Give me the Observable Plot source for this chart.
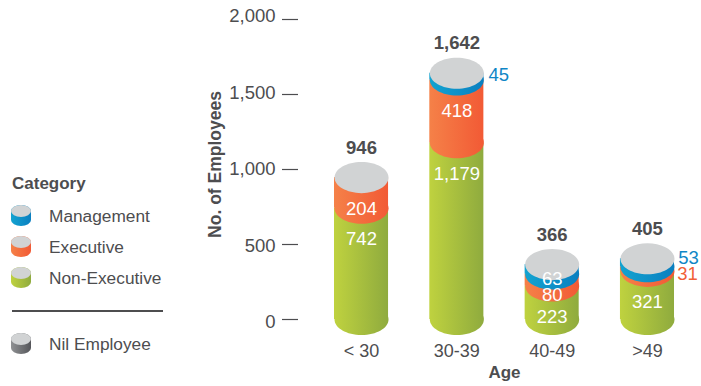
<!DOCTYPE html>
<html>
<head>
<meta charset="utf-8">
<script src="https://cdn.jsdelivr.net/npm/d3@7"></script>
<script src="https://cdn.jsdelivr.net/npm/@observablehq/plot@0.6"></script>
<style>
  html, body { margin: 0; padding: 0; background: #fff; }
  #chart { position: relative; width: 701px; height: 386px; font-family: "Liberation Sans", Arial, sans-serif; color: #4d4d4f; overflow: hidden; }
  #chart svg.plot { display: block; position: absolute; left: 0; top: 0; }
  .legend-title { position: absolute; left: 12px; top: 174px; font-size: 17px; line-height: 20px; font-weight: 700; }
  .legend-row { position: absolute; left: 11px; height: 22px; width: 170px; }
  .legend-row svg { position: absolute; left: 0; top: 0; }
  .legend-row span { position: absolute; left: 38px; top: 1px; font-size: 17.3px; line-height: 20px; white-space: nowrap; }
  .legend-rule { position: absolute; left: 12px; top: 310px; width: 151px; height: 2px; background: #4d4d4f; }
</style>
</head>
<body>
<div id="chart"></div>
<script>
// Employees by age band and category
const ages = ["< 30", "30-39", "40-49", ">49"];
const nonExecutive = [742, 1179, 223, 321];
const executive = [204, 418, 80, 31];
const management = [0, 45, 63, 53];
const totals = [946, 1642, 366, 405];
const yTicks = [0, 500, 1000, 1500, 2000];

const categories = ["Management", "Executive", "Non-Executive"];
const nilLabel = "Nil Employee";

const ink = "#4d4d4f";
const capColor = "#d1d3d4";
const ramps = {
  green: ["#bfd23f", "#8fab3e"],
  orange: ["#f58148", "#f25a35"],
  blue: ["#13a3d0", "#0a7fc0"],
  grey: ["#8f9193", "#55565a"]
};
const labelSize = 18.5;
const comma = d3.format(",");

// Stack the segments from the ground up
const stacks = [
  {key: "green", values: nonExecutive},
  {key: "orange", values: executive},
  {key: "blue", values: management}
];
const running = ages.map(() => 0);
const segments = stacks.map(({key, values}) =>
  values.map((v, i) => {
    const row = {age: ages[i], value: v, y1: running[i], y2: running[i] + v, key};
    running[i] += v;
    return row;
  }).filter((d) => d.value > 0)
);
const all = segments.flat();
const tops = ages.map((age, i) => ({age, total: totals[i]}));

// Flattened circle: a d3 symbol that draws the cylinder's elliptical ends
const squash = 0.575;
const ellipseSymbol = {
  draw(ctx, size) {
    const rx = Math.sqrt(size / Math.PI), ry = rx * squash, k = 0.5523;
    ctx.moveTo(-rx, 0);
    ctx.bezierCurveTo(-rx, -k * ry, -k * rx, -ry, 0, -ry);
    ctx.bezierCurveTo(k * rx, -ry, rx, -k * ry, rx, 0);
    ctx.bezierCurveTo(rx, k * ry, k * rx, ry, 0, ry);
    ctx.bezierCurveTo(-k * rx, ry, -rx, k * ry, -rx, 0);
    ctx.closePath();
  }
};

function gradients() {
  const defs = d3.create("svg:defs");
  for (const [key, [from, to]] of Object.entries(ramps)) {
    const g = defs.append("linearGradient").attr("id", `ramp-${key}`);
    g.append("stop").attr("offset", "0%").attr("stop-color", from);
    g.append("stop").attr("offset", "100%").attr("stop-color", to);
  }
  return defs.node();
}

const r = 27;
const cylinderMarks = segments.flatMap((rows) => {
  const fill = `url(#ramp-${rows[0].key})`;
  return [
    Plot.dot(rows, {x: "age", y: "y1", r, symbol: ellipseSymbol, fill, stroke: "none"}),
    Plot.barY(rows, {x: "age", y1: "y1", y2: "y2", fill})
  ];
});

const isThin = (d) => d.key !== "green" && d.value < 100;
const insideLabels = all.filter((d) => d.key === "green" || d.value >= 100);
const tucked = all.filter((d) => d.age === "40-49" && isThin(d));
const outside = all.filter((d) => d.age !== "40-49" && isThin(d));
const labelColor = {blue: "#0f86c6", orange: "#f15f37"};

// Tick labels spread a touch wider than the tick marks themselves
const tickLabels = yTicks.map((v) =>
  Plot.axisY([v], {tickFormat: comma, dx: -36, dy: 3 - (v / 2000) * 6, tickSize: 0, tickPadding: 23, label: null, fontSize: labelSize, fill: ink})
);

const plot = Plot.plot({
  width: 701,
  height: 386,
  marginTop: 19,
  marginBottom: 67,
  marginLeft: 334,
  marginRight: 27,
  style: {background: "transparent", fontFamily: "'Liberation Sans', Arial, sans-serif", color: ink, overflow: "visible"},
  x: {domain: ages, paddingInner: 0.433, paddingOuter: 0, round: false},
  y: {domain: [0, 2000]},
  marks: [
    gradients,
    ...cylinderMarks,
    Plot.dot(tops, {x: "age", y: "total", r, symbol: ellipseSymbol, fill: capColor, stroke: "none"}),

    Plot.axisY(yTicks, {tickFormat: () => "", dx: -36, tickSize: 16, label: null, stroke: ink, strokeWidth: 1.2}),
    ...tickLabels,
    Plot.axisX({tickSize: 0, tickPadding: 25, label: null, fontSize: 18, fill: ink}),

    Plot.text(["No. of Employees"], {frameAnchor: "left", textAnchor: "middle", rotate: -90, dx: -119, dy: -5, fontSize: 17.5, fontWeight: 700, fill: ink}),
    Plot.text(["Age"], {frameAnchor: "bottom", dy: 58, fontSize: 17, fontWeight: 700, fill: ink}),

    Plot.text(tops, {x: "age", y: "total", text: (d) => comma(d.total), dy: -30, fontSize: labelSize, fontWeight: 700, fill: ink}),
    Plot.text(insideLabels, {x: "age", y: "y2", text: (d) => comma(d.value), dy: 31, fontSize: labelSize, fill: "#fff"}),
    Plot.text(tucked.filter((d) => d.key === "orange"), {x: "age", y: "y2", text: "value", dy: 21, fontSize: labelSize, fill: "#fff"}),
    Plot.text(tucked.filter((d) => d.key === "blue"), {x: "age", y: "y2", text: "value", dy: 14, fontSize: labelSize, fill: "#fff"}),
    Plot.text(outside.filter((d) => d.key === "blue" && d.age === "30-39"), {x: "age", y: "y2", text: "value", dx: 42, dy: 2, fontSize: labelSize, fill: labelColor.blue}),
    Plot.text(outside.filter((d) => d.key === "blue" && d.age === ">49"), {x: "age", y: "y2", text: "value", dx: 41, dy: -1, fontSize: labelSize, fill: labelColor.blue}),
    Plot.text(outside.filter((d) => d.key === "orange"), {x: "age", y: "y2", text: "value", dx: 40, dy: 7, fontSize: labelSize, fill: labelColor.orange})
  ]
});

const host = d3.select("#chart");
host.node().append(plot);

// Legend in the left gutter, with a small cylinder for each swatch
const legendRows = [
  {label: categories[0], key: "blue", top: 205},
  {label: categories[1], key: "orange", top: 236},
  {label: categories[2], key: "green", top: 267},
  {label: nilLabel, key: "grey", top: 333}
];
host.append("div").attr("class", "legend-title").text("Category");
host.append("div").attr("class", "legend-rule");
for (const {label, key, top} of legendRows) {
  const row = host.append("div").attr("class", "legend-row").style("top", `${top}px`);
  const s = row.append("svg").attr("width", 20).attr("height", 22);
  s.append("path")
    .attr("d", "M0,6 A10,6 0 0 1 20,6 V15 A10,6 0 0 1 0,15 Z")
    .attr("fill", `url(#ramp-${key})`);
  s.append("ellipse").attr("cx", 10).attr("cy", 6).attr("rx", 10).attr("ry", 6).attr("fill", capColor);
  row.append("span").text(label);
}
</script>
</body>
</html>
